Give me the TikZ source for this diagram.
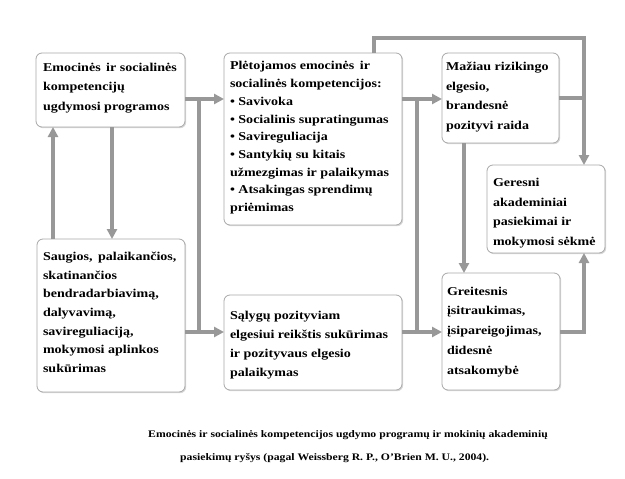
\documentclass[tikz,border=0pt]{standalone}
\usepackage{fontspec}
\setmainfont{Liberation Serif}[FakeStretch=1.17]
\usetikzlibrary{arrows.meta,calc,shadows}
\definecolor{argray}{HTML}{989898}
\definecolor{bxgray}{HTML}{A8A8A8}
\newcommand{\btext}[2][19.6]{\parbox[t]{8cm}{\fontsize{12}{#1}\selectfont\bfseries #2}}
\tikzset{
  bx/.style={draw=bxgray, line width=0.8pt, rounded corners=6pt, fill=white,
    drop shadow={shadow xshift=1.2pt, shadow yshift=-1.2pt, opacity=0.25, fill=black!60},
    inner sep=0, outer sep=0},
  tx/.style={anchor=base west, inner sep=0, outer sep=0},
  conn/.style={draw=argray, line width=3.6pt, -{Triangle[length=10pt,width=10pt]}},
  bar/.style={draw=argray, line width=3.6pt}
}
\begin{document}
\begin{tikzpicture}[x=1pt,y=-1pt]
\useasboundingbox (0,0) rectangle (625,479);
\fill[white] (0,0) rectangle (625,479);

% boxes
\node[bx, minimum width=149pt, minimum height=74pt] (A) at (110.5,90) {};
\node[bx, minimum width=178pt, minimum height=172pt] (B) at (313,139) {};
\node[bx, minimum width=117pt, minimum height=90pt] (C) at (500.5,98) {};
\node[bx, minimum width=118pt, minimum height=88pt] (D) at (546,209) {};
\node[bx, minimum width=148pt, minimum height=153pt] (E) at (111,315.5) {};
\node[bx, minimum width=178pt, minimum height=95pt] (F) at (313,342.5) {};
\node[bx, minimum width=118pt, minimum height=117pt] (G) at (501,331.5) {};

% texts
\node[tx] (At) at ($(A.north west)+(7,18)$) {\btext[19.7]{Emocinės\, ir socialinės\\kompetencijų\\ugdymosi programos}};
\node[tx] (Bt) at ($(B.north west)+(6,17)$) {\btext[17.7]{Plėtojamos emocinės\, ir\\socialinės kompetencijos:\\• Savivoka\\• Socialinis supratingumas\\• Savireguliacija\\• Santykių su kitais\\užmezgimas ir palaikymas\\• Atsakingas sprendimų\\priėmimas}};
\node[tx] (Ct) at ($(C.north west)+(4,17.7)$) {\btext[19.6]{Mažiau rizikingo\\elgesio,\\brandesnė\\pozityvi raida}};
\node[tx] (Dt) at ($(D.north west)+(6,21.5)$) {\btext[19.7]{Geresni\\akademiniai\\pasiekimai ir\\mokymosi sėkmė}};
\node[tx] (Et) at ($(E.north west)+(6,21.7)$) {\btext[18.6]{Saugios,\, palaikančios,\\skatinančios\\bendradarbiavimą,\\dalyvavimą,\\savireguliaciją,\\mokymosi aplinkos\\sukūrimas}};
\node[tx] (Ft) at ($(F.north west)+(6,24)$) {\btext[19.2]{Sąlygų pozityviam\\elgesiui reikštis sukūrimas\\ir pozityvaus elgesio\\palaikymas}};
\node[tx] (Gt) at ($(G.north west)+(5,22)$) {\btext[19.8]{Greitesnis\\įsitraukimas,\\įsipareigojimas,\\didesnė\\atsakomybė}};

% junction coordinates
\coordinate (j1) at (199,99);
\coordinate (j2) at (199,332);
\coordinate (j3) at (417,99);
\coordinate (j4) at (417,332);
\coordinate (t1) at (374,38);
\coordinate (t2) at (584,38);
\coordinate (t3) at (584,98);

% connectors
\draw[conn] (A.east |- 0,99) -- (B.west |- 0,99);
\draw[bar] (j1) -- (j2);
\draw[conn] (E.east |- 0,332) -- (F.west |- 0,332);
\draw[conn] (A.south -| 112,0) -- (E.north -| 112,0);
\draw[conn] (E.north -| 53,0) -- (A.south -| 53,0);
\draw[conn] (B.east |- 0,99) -- (C.west |- 0,99);
\draw[bar] (j3) -- (j4);
\draw[conn] (F.east |- 0,332) -- (G.west |- 0,332);
\draw[bar] (B.north -| t1) -- (t1) -- (t2) -- (t3);
\draw[conn] (C.east |- t3) -- (t3) -- (D.north -| t3);
\draw[conn] (C.south -| 464,0) -- (G.north -| 464,0);
\draw[conn] (G.east |- 0,332) -| (D.south -| t3);

% caption
\node[anchor=base west, inner sep=0] (cap1) at (148,437) {\fontsize{10}{12}\selectfont\bfseries Emocinės ir socialinės kompetencijos ugdymo programų ir mokinių akademinių};
\node[anchor=base west, inner sep=0] (cap2) at (180,460) {\fontsize{10}{12}\selectfont\bfseries pasiekimų ryšys (pagal Weissberg R. P., O’Brien M. U., 2004).};
\end{tikzpicture}
\end{document}
